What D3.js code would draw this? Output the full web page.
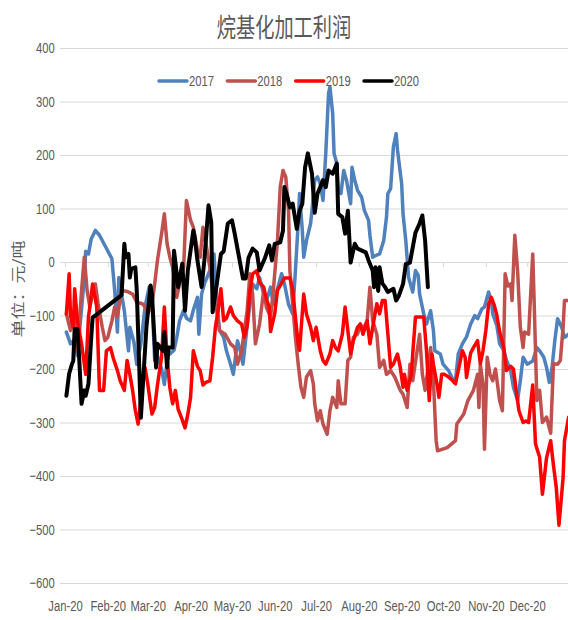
<!DOCTYPE html>
<html>
<head>
<meta charset="utf-8">
<style>
	body { margin: 0; background: #fff; }
	#chart { position: absolute; left: 0; top: 0; }
	text { fill: #595959; font-family: "Liberation Sans", Arial, sans-serif; }
	.cjk { font-family: "Noto Sans CJK SC", sans-serif; }
</style>
<script src="https://d3js.org/d3.v7.min.js"></script>
</head>
<body>
<div id="chart"></div>
<script>
	// values: [day of year, yuan per ton]
	const s2017 = [[1,-131],[4,-153],[7,-145],[9,-175],[11,-116],[14,-30],[15,20],[17,15],[19,43],[22,59],[25,50],
		[34,6],[36,-53],[38,-131],[39,-29],[41,-60],[43,-91],[46,-166],[47,-122],[50,-150],[52,-191],[55,-153],
		[58,-84],[61,-47],[63,-66],[65,-184],[67,-175],[70,-200],[72,-229],[75,-166],[76,-172],[79,-165],[81,-141],
		[83,-110],[86,-90],[88,-105],[91,-110],[93,-90],[96,-66],[97,-135],[99,-60],[101,-41],[104,-22],[107,-4],
		[108,15],[110,-72],[112,-128],[115,-141],[117,-166],[120,-191],[122,-210],[125,-147],[127,-166],[129,-191],
		[132,-120],[134,-80],[136,-41],[139,-50],[141,-29],[144,-60],[146,-72],[149,-47],[151,-79],[154,-50],
		[157,-22],[159,-40],[162,-79],[165,-97],[167,-16],[169,72],[170,128],[172,59],[173,9],[175,40],[178,72],
		[179,96],[181,153],[183,159],[185,146],[187,115],[189,203],[191,315],[192,327],[194,278],[195,203],[197,184],
		[198,134],[200,128],[202,171],[204,153],[207,109],[208,177],[210,153],[212,134],[215,121],[217,96],[220,78],
		[221,50],[223,9],[225,12],[228,15],[231,40],[233,84],[234,128],[236,137],[238,215],[240,240],[241,209],
		[244,146],[245,90],[247,40],[249,-29],[252,-56],[254,-16],[256,-25],[257,-60],[260,-97],[262,-116],[265,-91],
		[267,-128],[268,-166],[272,-172],[274,-191],[278,-203],[281,-219],[283,-222],[285,-172],[288,-153],[291,-140],
		[294,-116],[297,-100],[299,-106],[302,-88],[304,-84],[307,-56],[309,-72],[310,-97],[313,-119],[315,-153],
		[318,-165],[320,-184],[323,-203],[325,-234],[328,-259],[330,-222],[332,-178],[335,-191],[339,-185],[342,-160],
		[344,-166],[347,-178],[349,-197],[351,-225],[353,-197],[355,-147],[357,-106],[360,-122],[362,-141],[365,-135]];

	const s2018 = [[1,-97],[4,-128],[7,-91],[9,-166],[12,-53],[14,9],[16,-53],[18,-84],[20,-60],[22,-41],[24,-78],
		[27,-122],[29,-147],[31,-141],[34,-110],[36,-84],[38,-103],[41,-53],[45,-55],[49,-60],[52,-75],[56,-78],
		[58,-84],[60,-97],[63,-80],[65,-41],[67,3],[70,53],[72,90],[74,34],[76,9],[78,-10],[81,-66],[83,-40],[86,-10],
		[88,115],[91,78],[93,65],[96,22],[98,9],[100,65],[103,22],[105,-10],[107,-53],[110,-91],[112,-128],[116,-135],
		[120,-153],[123,-160],[125,-191],[128,-166],[132,-91],[134,-22],[136,-60],[138,-153],[141,-116],[144,-53],
		[146,-85],[149,-103],[151,-53],[154,40],[156,140],[158,171],[160,159],[162,96],[163,-16],[165,-79],[167,-141],
		[169,-191],[171,-234],[173,-253],[175,-215],[178,-203],[180,-228],[181,-265],[183,-297],[185,-278],[187,-303],
		[190,-322],[192,-278],[194,-253],[197,-272],[198,-222],[200,-265],[203,-265],[205,-184],[207,-178],[209,-141],
		[212,-135],[214,-116],[216,-125],[219,-110],[221,-47],[223,-110],[226,-135],[228,-197],[231,-184],[233,-210],
		[236,-203],[239,-215],[243,-240],[245,-247],[248,-272],[250,-191],[252,-222],[257,-135],[259,-210],[261,-240],
		[265,-160],[267,-222],[269,-334],[270,-353],[277,-347],[283,-334],[284,-303],[289,-284],[292,-259],[296,-240],
		[299,-210],[300,-272],[301,-191],[303,-230],[304,-350],[306,-178],[308,-210],[310,-222],[312,-200],[315,-259],
		[317,-278],[319,-22],[321,-45],[323,-41],[324,-72],[326,50],[328,-15],[330,-122],[332,-160],[333,-131],
		[336,-135],[339,15],[340,-72],[342,-259],[344,-240],[346,-300],[349,-290],[352,-320],[354,-190],[357,-191],
		[359,-184],[361,-122],[362,-72],[365,-72]];

	const s2019 = [[1,-97],[3,-22],[4,-100],[6,-122],[7,-50],[9,-110],[12,-153],[15,-210],[17,-103],[18,-84],[20,-41],
		[23,-84],[25,-240],[28,-240],[30,-166],[33,-160],[35,-180],[38,-203],[40,-222],[43,-240],[45,-184],[47,-210],
		[49,-240],[51,-278],[53,-303],[56,-234],[58,-197],[60,-228],[63,-284],[65,-272],[67,-230],[70,-178],[72,-84],
		[74,-180],[76,-235],[78,-265],[80,-240],[82,-275],[85,-295],[87,-310],[89,-285],[91,-253],[93,-166],[96,-195],
		[98,-203],[100,-230],[102,-225],[105,-222],[107,-178],[109,-122],[111,-90],[113,-50],[115,-110],[117,-105],
		[120,-84],[122,-100],[125,-110],[128,-116],[130,-141],[132,-120],[134,-55],[136,-22],[139,-16],[141,-38],
		[144,-47],[146,-70],[148,-84],[149,-130],[152,-97],[154,-53],[156,-44],[159,-30],[163,-30],[165,-51],
		[167,-103],[169,-153],[170,-165],[173,-60],[175,-97],[178,-122],[180,-147],[182,-122],[185,-166],[187,-184],
		[189,-191],[192,-172],[194,-147],[196,-160],[198,-166],[201,-135],[203,-84],[207,-172],[209,-147],[212,-122],
		[214,-116],[216,-135],[219,-110],[221,-153],[223,-122],[226,-78],[228,-97],[230,-72],[232,-72],[234,-135],
		[236,-197],[238,-191],[241,-172],[243,-197],[245,-234],[246,-210],[248,-240],[251,-210],[252,-172],[254,-103],
		[257,-103],[260,-103],[262,-166],[264,-259],[266,-172],[267,-191],[270,-234],[271,-253],[273,-210],[275,-210],
		[278,-215],[281,-222],[283,-228],[285,-203],[288,-166],[290,-178],[291,-216],[294,-170],[296,-160],[299,-147],
		[301,-190],[303,-165],[305,-128],[307,-79],[309,-66],[311,-80],[313,-100],[315,-130],[318,-160],[320,-203],
		[323,-195],[325,-200],[327,-240],[329,-278],[332,-300],[334,-297],[336,-300],[339,-230],[341,-340],[344,-365],
		[346,-434],[349,-366],[352,-334],[354,-380],[356,-420],[358,-492],[361,-403],[362,-334],[365,-290]];

	const s2020 = [[1,-250],[3,-209],[5,-191],[6,-185],[7,-125],[9,-125],[10,-166],[12,-265],[14,-240],[15,-250],
		[17,-228],[19,-141],[20,-104],[41,-62],[43,34],[44,9],[46,15],[47,-29],[48,-13],[51,-10],[52,-53],[55,-291],
		[59,-122],[62,-44],[63,-60],[66,-197],[67,-153],[71,-166],[72,-131],[74,-197],[75,-160],[78,-160],[79,21],
		[80,0],[82,-47],[85,-3],[87,-91],[89,-16],[93,59],[94,46],[96,3],[99,-47],[101,3],[104,106],[106,74],[107,-94],
		[110,-41],[113,15],[115,20],[118,72],[121,78],[123,53],[129,-31],[131,-31],[133,8],[136,25],[139,18],[141,-16],
		[145,8],[148,31],[150,3],[152,34],[156,37],[158,59],[159,140],[161,124],[163,102],[165,109],[168,62],[170,96],
		[172,109],[174,177],[176,203],[179,165],[181,92],[183,128],[185,140],[187,153],[189,140],[191,171],[194,165],
		[197,184],[198,90],[201,84],[203,53],[205,96],[207,-1],[210,34],[212,25],[218,18],[220,3],[223,-16],[224,-47],
		[225,-10],[227,-54],[228,-10],[230,-40],[232,-47],[234,-56],[238,-50],[240,-72],[242,-63],[245,-41],[247,-4],
		[250,-1],[252,27],[254,55],[257,72],[259,87],[261,40],[263,-47]];

	const seriesNames = ["2017", "2018", "2019", "2020"];
	const seriesData = [s2017, s2018, s2019, s2020];
	const seriesColors = ["#4f81bd", "#c0504d", "#ff0000", "#000000"];
	const monthLabels = ["Jan-20", "Feb-20", "Mar-20", "Apr-20", "May-20", "Jun-20",
		"Jul-20", "Aug-20", "Sep-20", "Oct-20", "Nov-20", "Dec-20"];
	const yTicks = [-600, -500, -400, -300, -200, -100, 0, 100, 200, 300, 400];

	const W = 568, H = 620;
	const plotLeft = 60, plotRight = 568;
	const squeeze = "scale(0.75,1)";

	const svg = d3.select("#chart").append("svg")
		.attr("width", W)
		.attr("height", H);

	const start = new Date(2020, 0, 1);
	const x = d3.scaleTime()
		.domain([start, new Date(2021, 0, 1)])
		.range([65, 570]);
	const y = d3.scaleLinear()
		.domain([-600, 400])
		.range([583, 48]);
	const dayToDate = function(d) { return d3.timeDay.offset(start, d); };
	// one tick per month of 2020
	const monthStarts = d3.timeMonth.range(start, new Date(2020, 11, 2));

	// title
	svg.append("text")
		.attr("class", "cjk")
		.attr("transform", "translate(284,37) scale(0.74,1)")
		.attr("text-anchor", "middle")
		.attr("font-size", "26px")
		.text("烷基化加工利润");

	// gridlines + y labels
	const yAxis = svg.append("g")
		.attr("transform", "translate(" + plotLeft + ",0)")
		.call(d3.axisLeft(y).tickValues(yTicks).tickSize(-(plotRight - plotLeft)).tickPadding(7));
	yAxis.select(".domain").remove();
	yAxis.selectAll("line").attr("stroke", "#d9d9d9");
	yAxis.selectAll("text")
		.attr("fill", "#595959")
		.attr("font-size", "15px")
		.attr("font-family", "Liberation Sans, Arial, sans-serif")
		.attr("transform", squeeze);

	// small ticks on the zero line
	const zeroAxis = svg.append("g")
		.attr("transform", "translate(0," + y(0) + ")")
		.call(d3.axisBottom(x).tickValues(monthStarts).tickSize(5).tickFormat(""));
	zeroAxis.select(".domain").remove();
	zeroAxis.selectAll("line").attr("stroke", "#d9d9d9");

	// month labels
	const xAxis = svg.append("g")
		.attr("transform", "translate(0," + y(-600) + ")")
		.call(d3.axisBottom(x).tickValues(monthStarts).tickSize(0).tickPadding(17)
			.tickFormat(function(d) { return monthLabels[d.getMonth()]; }));
	xAxis.select(".domain").remove();
	xAxis.selectAll("text")
		.attr("fill", "#595959")
		.attr("font-size", "15px")
		.attr("font-family", "Liberation Sans, Arial, sans-serif")
		.attr("transform", squeeze);

	// y axis title
	svg.append("text")
		.attr("class", "cjk")
		.attr("transform", "translate(23,289) rotate(-90) scale(1,0.75)")
		.attr("text-anchor", "middle")
		.attr("font-size", "18px")
		.text("单位：元/吨");

	// lines
	svg.append("clipPath").attr("id", "clip")
		.append("rect").attr("x", plotLeft).attr("y", 30).attr("width", plotRight - plotLeft).attr("height", 570);

	const line = d3.line()
		.x(function(d) { return x(dayToDate(d[0])); })
		.y(function(d) { return y(d[1]); });

	svg.append("g").attr("clip-path", "url(#clip)")
		.selectAll("path")
		.data(seriesData)
		.enter()
		.append("path")
		.attr("d", line)
		.attr("fill", "none")
		.attr("stroke", function(d, i) { return seriesColors[i]; })
		.attr("stroke-width", function(d, i) { return i === 3 ? 4 : 3.5; })
		.attr("stroke-linejoin", "round")
		.attr("stroke-linecap", "round");

	// legend
	const lx = d3.scalePoint().domain(seriesNames).range([159, 364]);
	const legend = svg.append("g").selectAll("g")
		.data(seriesNames)
		.enter()
		.append("g")
		.attr("transform", function(d) { return "translate(" + lx(d) + ",81)"; });
	legend.append("line")
		.attr("x1", 0).attr("x2", 28)
		.attr("stroke", function(d, i) { return seriesColors[i]; })
		.attr("stroke-width", 3.5)
		.attr("stroke-linecap", "round");
	legend.append("text")
		.attr("transform", "translate(30,5) " + squeeze)
		.attr("font-size", "15px")
		.text(function(d) { return d; });
</script>
</body>
</html>
